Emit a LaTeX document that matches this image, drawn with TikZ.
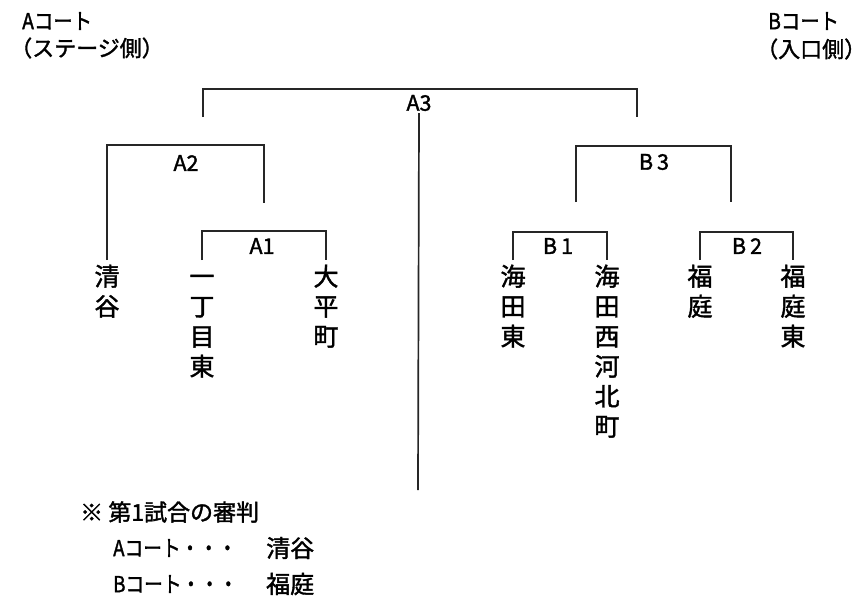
\documentclass[tikz,border=0pt]{standalone}
\usepackage{fontspec}
\usepackage{graphicx}
\setmainfont{Noto Sans CJK JP}[FakeBold=1.6]
\newcommand{\cnd}[2]{\scalebox{#1}[1]{#2}}
\begin{document}
\begin{tikzpicture}[x=1pt,y=-1pt,
  vname/.style={font=\fontsize{25}{30}\selectfont, align=center, inner sep=0pt, anchor=north},
  mlabel/.style={font=\fontsize{21.5}{22}\selectfont, inner sep=0pt},
  head/.style={font=\fontsize{22}{24}\selectfont, inner sep=0pt, anchor=west},
  note/.style={font=\fontsize{22}{24}\selectfont, inner sep=0pt, anchor=west},
  noteval/.style={font=\fontsize{24}{24}\selectfont, inner sep=0pt, anchor=west},
  bracket/.style={draw=black!85, line width=1.7pt}]
\useasboundingbox (0,0) rectangle (868,598);

% headers
\node[head] (hA) at (22,21) {\cnd{0.88}{Aコート}};
\node[head] (hAs) at (10,48) {（ステージ側）};
\node[head] (hB) at (768,21) {\cnd{0.88}{Bコート}};
\node[head] (hBs) at (756,49) {（入口側）};

% team names (vertical)
\newcommand{\tp}{\rule{0pt}{21.5pt}}
\node[vname] (seiya) at (107,264) {\tp 清\\谷};
\node[vname] (itchome) at (202,264) {\tp 一\\丁\\目\\東};
\node[vname] (ohira) at (326,264) {\tp 大\\平\\町};
\node[vname] (kaitahigashi) at (513,264) {\tp 海\\田\\東};
\node[vname] (kaitanishi) at (607,264) {\tp 海\\田\\西\\河\\北\\町};
\node[vname] (fukuniwa) at (700,264) {\tp 福\\庭};
\node[vname] (fukuniwahigashi) at (793,264) {\tp 福\\庭\\東};

% match labels
\node[mlabel] (A1) at (262,246) {A1};
\node[mlabel] (A2) at (186,163) {A2};
\node[mlabel] (A3) at (419,103) {A3};
\node[mlabel] (B1) at (558,246) {B\hspace{4pt}1};
\node[mlabel] (B2) at (747,246) {B\hspace{4pt}2};
\node[mlabel] (B3) at (654,162) {B\hspace{4pt}3};

% bracket corner coordinates
\coordinate (a2r) at (264,203);
\coordinate (a3l) at (203,117);
\coordinate (a3r) at (637,117);
\coordinate (b3l) at (576,202);
\coordinate (b3r) at (731,202);
\coordinate (final) at (418,490);

% A1
\draw[bracket] ([yshift=4pt]itchome.north) -- ++(0,-29) -| ([yshift=4pt]ohira.north);
% A2
\draw[bracket] ([yshift=4pt]seiya.north) -- ++(0,-115) -| (a2r);
% A3
\draw[bracket] (a3l) -- ++(0,-28) -| (a3r);
\draw[bracket] (A3.south) ++(0,2) -- (final);
% B1
\draw[bracket] ([yshift=4pt]kaitahigashi.north) -- ++(0,-28) -| ([yshift=4pt]kaitanishi.north);
% B2
\draw[bracket] ([yshift=4pt]fukuniwa.north) -- ++(0,-28) -| ([yshift=4pt]fukuniwahigashi.north);
% B3
\draw[bracket] (b3l) -- ++(0,-56) -| (b3r);

% note
\node[note, font=\fontsize{23}{24}\selectfont] (n0) at (80,512) {※ 第1試合の審判};
\node[note] (n1) at (113,548) {\cnd{0.85}{Aコート・・・}};
\node[noteval] (n1v) at (266,548) {清谷};
\node[note] (n2) at (113,584) {\cnd{0.85}{Bコート・・・}};
\node[noteval] (n2v) at (266,584) {福庭};
\end{tikzpicture}
\end{document}
